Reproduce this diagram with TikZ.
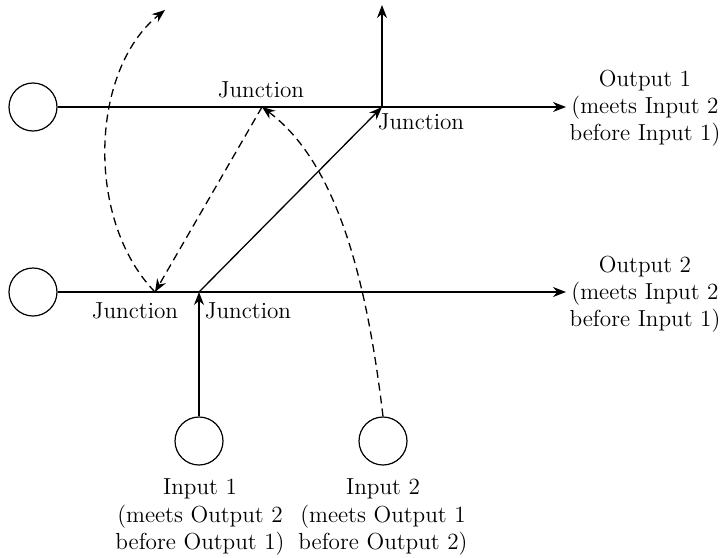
\documentclass[tikz,border=0pt]{standalone}
\usetikzlibrary{arrows.meta}
\begin{document}
\begin{tikzpicture}[x=0.5pt,y=-0.5pt,
  every node/.style={font=\fontsize{11.6pt}{13.6pt}\selectfont},
  port/.style={draw,circle,line width=0.6pt,minimum size=24pt,inner sep=0pt},
  wire/.style={line width=0.65pt},
  arr/.style={wire,-{Stealth[length=6.5pt,width=5pt]}},
  darr/.style={wire,dash pattern=on 4pt off 2.5pt,-{Stealth[length=6.5pt,width=5pt]}},
  lbl/.style={align=center,inner sep=0pt}]
\useasboundingbox (0,0) rectangle (721,557);
% ports
\node[port] (o1) at (33,107) {};
\node[port] (o2) at (33,292) {};
\node[port] (i1) at (199,441) {};
\node[port] (i2) at (383,441) {};
% junctions and ends
\coordinate (jt) at (262,107);
\coordinate (jr) at (382,107);
\coordinate (jl) at (155,292);
\coordinate (jb) at (199,292);
\coordinate (up) at (382,5);
\coordinate (dtop) at (165,10);
\coordinate (e1) at (566,107);
\coordinate (e2) at (566,292);
% solid lines
\draw[arr] (o1.east) -- (e1);
\draw[arr] (o2.east) -- (e2);
\draw[arr] (i1.north) -- (jb);
\draw[arr] (jb) -- (jr);
\draw[arr] (jr) -- (up);
% dashed
\draw[darr] (jt) -- (jl);
\draw[darr] (jl) .. controls (85,220) and (90,70) .. (dtop);
\draw[darr] (i2.north) .. controls (368,290) and (340,165) .. (jt);
% labels
\node[lbl] (lt) at (261,90) {Junction};
\node[lbl] (lr) at (421,122) {Junction};
\node[lbl] (ll) at (135,311) {Junction};
\node[lbl] (lb) at (248,311) {Junction};
\node[lbl] (to1) at (645,108) {Output 1\\(meets Input 2\\before Input 1)};
\node[lbl] (to2) at (645,294) {Output 2\\(meets Input 2\\before Input 1)};
\node[lbl] (ti1) at (200,517) {Input 1\\(meets Output 2\\before Output 1)};
\node[lbl] (ti2) at (383,517) {Input 2\\(meets Output 1\\before Output 2)};
\end{tikzpicture}
\end{document}
